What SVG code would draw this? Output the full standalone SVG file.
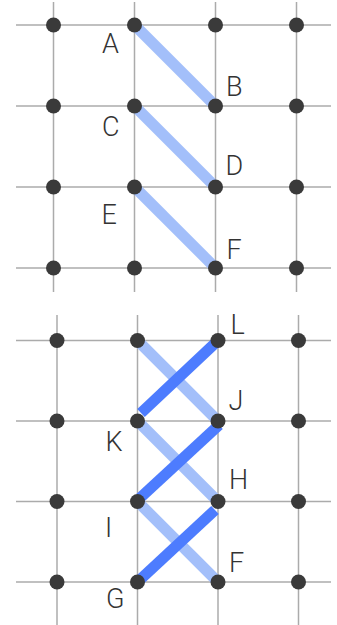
<svg xmlns="http://www.w3.org/2000/svg" width="337" height="625" viewBox="0 0 337 625">
<defs>
<style>
.grid{stroke:#ababab;stroke-width:1.5;fill:none}
.light{stroke:#a3bffa;stroke-width:11;stroke-linecap:butt;fill:none}
.dark{stroke:#4d7cfe;stroke-width:11;stroke-linecap:butt;fill:none}
.dot{fill:#3a3a3a}
.lbl{font-family:Roboto,"Liberation Sans",sans-serif;font-size:27px;font-weight:300;fill:#333}
</style>
</defs>
<rect width="337" height="625" fill="#fff"/>
<g id="grid-top">
<line class="grid" x1="16" y1="25" x2="331" y2="25"/>
<line class="grid" x1="16" y1="106" x2="331" y2="106"/>
<line class="grid" x1="16" y1="187" x2="331" y2="187"/>
<line class="grid" x1="16" y1="268" x2="331" y2="268"/>
<line class="grid" x1="53.5" y1="2" x2="53.5" y2="292"/>
<line class="grid" x1="134.5" y1="2" x2="134.5" y2="292"/>
<line class="grid" x1="215.5" y1="2" x2="215.5" y2="292"/>
<line class="grid" x1="296.5" y1="2" x2="296.5" y2="292"/>
</g>
<g id="grid-bottom">
<line class="grid" x1="16" y1="340.5" x2="331" y2="340.5"/>
<line class="grid" x1="16" y1="421" x2="331" y2="421"/>
<line class="grid" x1="16" y1="501.5" x2="331" y2="501.5"/>
<line class="grid" x1="16" y1="582" x2="331" y2="582"/>
<line class="grid" x1="57" y1="315" x2="57" y2="625"/>
<line class="grid" x1="137.5" y1="315" x2="137.5" y2="625"/>
<line class="grid" x1="218" y1="315" x2="218" y2="625"/>
<line class="grid" x1="298.5" y1="315" x2="298.5" y2="625"/>
</g>
<g id="connectors">
<line class="light" x1="134.5" y1="25" x2="215.5" y2="106"/>
<line class="light" x1="134.5" y1="106" x2="215.5" y2="187"/>
<line class="light" x1="134.5" y1="187" x2="215.5" y2="268"/>
<line class="light" x1="137.5" y1="340.5" x2="218" y2="421"/>
<line class="light" x1="137.5" y1="421" x2="218" y2="501.5"/>
<line class="light" x1="137.5" y1="501.5" x2="218" y2="582"/>
<line class="dark" x1="141" y1="413" x2="218" y2="340.5"/>
<line class="dark" x1="140" y1="498" x2="219" y2="425"/>
<line class="dark" x1="137.5" y1="582" x2="215" y2="510"/>
</g>
<g id="t-0-0"><circle class="dot" cx="53.5" cy="25" r="7.5"/></g>
<g id="A"><circle class="dot" cx="134.5" cy="25" r="7.5"/><text class="lbl" x="102" y="53">A</text></g>
<g id="t-0-2"><circle class="dot" cx="215.5" cy="25" r="7.5"/></g>
<g id="t-0-3"><circle class="dot" cx="296.5" cy="25" r="7.5"/></g>
<g id="t-1-0"><circle class="dot" cx="53.5" cy="106" r="7.5"/></g>
<g id="C"><circle class="dot" cx="134.5" cy="106" r="7.5"/><text class="lbl" x="102" y="136">C</text></g>
<g id="B"><circle class="dot" cx="215.5" cy="106" r="7.5"/><text class="lbl" x="226" y="96">B</text></g>
<g id="t-1-3"><circle class="dot" cx="296.5" cy="106" r="7.5"/></g>
<g id="t-2-0"><circle class="dot" cx="53.5" cy="187" r="7.5"/></g>
<g id="E"><circle class="dot" cx="134.5" cy="187" r="7.5"/><text class="lbl" x="101.5" y="224">E</text></g>
<g id="D"><circle class="dot" cx="215.5" cy="187" r="7.5"/><text class="lbl" x="225.5" y="175">D</text></g>
<g id="t-2-3"><circle class="dot" cx="296.5" cy="187" r="7.5"/></g>
<g id="t-3-0"><circle class="dot" cx="53.5" cy="268" r="7.5"/></g>
<g id="t-3-1"><circle class="dot" cx="134.5" cy="268" r="7.5"/></g>
<g id="F-top"><circle class="dot" cx="215.5" cy="268" r="7.5"/><text class="lbl" x="226.5" y="259">F</text></g>
<g id="t-3-3"><circle class="dot" cx="296.5" cy="268" r="7.5"/></g>
<g id="b-0-0"><circle class="dot" cx="57" cy="340.5" r="7.5"/></g>
<g id="b-0-1"><circle class="dot" cx="137.5" cy="340.5" r="7.5"/></g>
<g id="L"><circle class="dot" cx="218" cy="340.5" r="7.5"/><text class="lbl" x="230.5" y="334">L</text></g>
<g id="b-0-3"><circle class="dot" cx="298.5" cy="340.5" r="7.5"/></g>
<g id="b-1-0"><circle class="dot" cx="57" cy="421" r="7.5"/></g>
<g id="K"><circle class="dot" cx="137.5" cy="421" r="7.5"/><text class="lbl" x="105.5" y="451">K</text></g>
<g id="J"><circle class="dot" cx="218" cy="421" r="7.5"/><text class="lbl" x="228.5" y="410">J</text></g>
<g id="b-1-3"><circle class="dot" cx="298.5" cy="421" r="7.5"/></g>
<g id="b-2-0"><circle class="dot" cx="57" cy="501.5" r="7.5"/></g>
<g id="I"><circle class="dot" cx="137.5" cy="501.5" r="7.5"/><text class="lbl" x="105" y="537">I</text></g>
<g id="H"><circle class="dot" cx="218" cy="501.5" r="7.5"/><text class="lbl" x="229" y="489">H</text></g>
<g id="b-2-3"><circle class="dot" cx="298.5" cy="501.5" r="7.5"/></g>
<g id="b-3-0"><circle class="dot" cx="57" cy="582" r="7.5"/></g>
<g id="G"><circle class="dot" cx="137.5" cy="582" r="7.5"/><text class="lbl" x="106" y="608">G</text></g>
<g id="F-bottom"><circle class="dot" cx="218" cy="582" r="7.5"/><text class="lbl" x="229" y="572">F</text></g>
<g id="b-3-3"><circle class="dot" cx="298.5" cy="582" r="7.5"/></g>
</svg>
